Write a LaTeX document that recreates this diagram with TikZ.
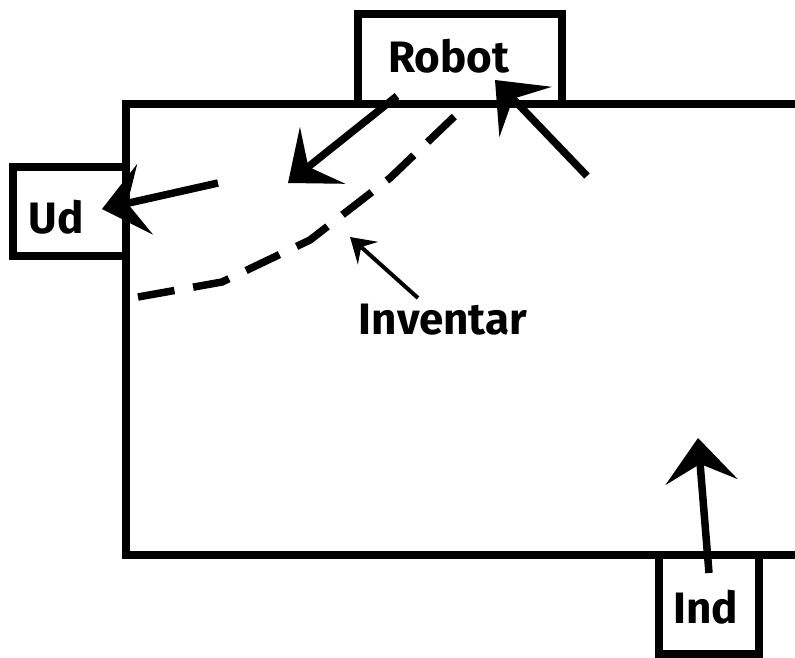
\documentclass[tikz,border=0pt]{standalone}
\usepackage{fontspec}
\setmainfont{Fira Sans}
\usetikzlibrary{arrows.meta}
\begin{document}
\begin{tikzpicture}[x=1pt,y=-1pt,
  thick line/.style={line width=7.5pt},
  bigarrow/.style={line width=7.5pt,-{Stealth[length=44pt,width=72pt,inset=18pt]}},
  thinarrow/.style={line width=4pt,-{Stealth[length=24pt,width=30pt,inset=9pt]}},
  boxnode/.style={draw,line width=7.5pt,inner sep=0pt},
  lbl/.style={font=\fontsize{44}{46}\selectfont\bfseries,inner sep=0pt}]
\useasboundingbox (0,0) rectangle (795,657);
% main area
\draw[thick line] (800,104) -- (126,104) -- (126,555) -- (800,555);
% boxes
\node[boxnode,minimum width=204pt,minimum height=90pt] (robotbox) at (460,59) {};
\node[boxnode,minimum width=113pt,minimum height=89pt] (udbox) at (69.5,211.5) {};
\node[boxnode,minimum width=100pt,minimum height=99pt] (indbox) at (709,604.5) {};
\node[lbl] (robot) at (449,56) {Robot};
\node[lbl] (ud) at (56,217) {Ud};
\node[lbl] (ind) at (706,607) {Ind};
\node[lbl] (inv) at (443,320) {Inventar};
% arrow end points
\coordinate (a1s) at (397,96);
\coordinate (a1t) at (288,183);
\coordinate (a2s) at (587,176);
\coordinate (a2t) at (495,80);
\coordinate (a3s) at (218,183);
\coordinate (a3t) at (102,209);
\coordinate (a4s) at (709,573);
\coordinate (a4t) at (698,438);
\coordinate (a5s) at (418,298);
\coordinate (a5t) at (350,237);
\draw[bigarrow] (a1s) -- (a1t);
\draw[bigarrow] (a2s) -- (a2t);
\draw[bigarrow] (a3s) -- (a3t);
\draw[bigarrow] (a4s) -- (a4t);
\draw[thinarrow] (a5s) -- (a5t);
% dashed boundary
\coordinate (d0) at (138,297);
\coordinate (d1) at (222,282);
\coordinate (d2) at (310,240);
\coordinate (d3) at (390,178);
\coordinate (d4) at (458,113);
\draw[line width=7.5pt,dash pattern=on 37pt off 19pt] (d0) -- (d1) -- (d2) -- (d3) -- (d4);
\end{tikzpicture}
\end{document}
